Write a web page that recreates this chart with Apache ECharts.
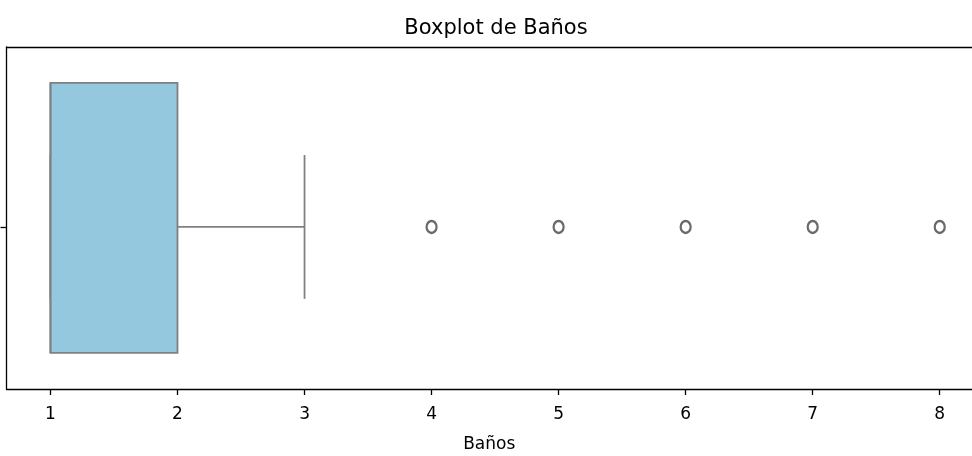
<!DOCTYPE html>
<html>
<head>
<meta charset="utf-8">
<script src="https://cdn.jsdelivr.net/npm/echarts@6/dist/echarts.min.js"></script>
<style>
  html, body { margin: 0; padding: 0; background: #fff; }
  #chart { width: 972px; height: 456px; }
</style>
</head>
<body>
<div id="chart"></div>
<script>
// Summary statistics of the "Baños" column
// [lower whisker, Q1, median, Q3, upper whisker]
const boxStats = [1, 1, 1, 2, 3];
const outliers = [4, 5, 6, 7, 8];
const tickValues = [1, 2, 3, 4, 5, 6, 7, 8];
const groupPosition = [0];

const FONT = 'DejaVu Sans';
const LINE = '#808080';
const FILL = '#93c8de';

// box geometry in category units
const BOX_HALF = 0.4;
const BOX_SHIFT = -0.027;
const CAP_HALF = 0.213;

const chart = echarts.init(document.getElementById('chart'), null, { renderer: 'canvas' });

function renderBox(params, api) {
  const lo = api.value(0), q1 = api.value(1), med = api.value(2), q3 = api.value(3), hi = api.value(4);
  const pos = api.value(5);
  const cy = api.coord([q1, pos])[1];
  const boxTop = api.coord([q1, pos + BOX_SHIFT - BOX_HALF])[1];
  const boxBot = api.coord([q1, pos + BOX_SHIFT + BOX_HALF])[1];
  const capTop = api.coord([q1, pos - CAP_HALF])[1];
  const capBot = api.coord([q1, pos + CAP_HALF])[1];
  const xLo = api.coord([lo, pos])[0];
  const xQ1 = api.coord([q1, pos])[0];
  const xMed = api.coord([med, pos])[0];
  const xQ3 = api.coord([q3, pos])[0];
  const xHi = api.coord([hi, pos])[0];
  const ls = { stroke: LINE, lineWidth: 1.8 };
  return {
    type: 'group',
    children: [
      { type: 'line', shape: { x1: xLo, y1: cy, x2: xQ1, y2: cy }, style: ls },
      { type: 'line', shape: { x1: xQ3, y1: cy, x2: xHi, y2: cy }, style: ls },
      { type: 'line', shape: { x1: xLo, y1: capTop, x2: xLo, y2: capBot }, style: ls },
      { type: 'line', shape: { x1: xHi, y1: capTop, x2: xHi, y2: capBot }, style: ls },
      { type: 'rect', shape: { x: xQ1, y: boxTop, width: xQ3 - xQ1, height: boxBot - boxTop },
        style: { fill: FILL, stroke: LINE, lineWidth: 1.8 } },
      { type: 'line', shape: { x1: xMed, y1: boxTop, x2: xMed, y2: boxBot }, style: ls }
    ]
  };
}

const axisLineStyle = { color: '#000', width: 1.3 };

chart.setOption({
  animation: false,
  backgroundColor: '#ffffff',
  title: {
    text: 'Boxplot de Baños',
    left: 491, top: 13, textAlign: 'center',
    textStyle: { fontFamily: FONT, fontSize: 21, fontWeight: 'normal', color: '#000' }
  },
  grid: {
    left: 6.5, top: 47, right: 0, height: 342,
    containLabel: false,
    outerBoundsMode: 'none',
    show: false
  },
  xAxis: [
    {
      type: 'value',
      position: 'bottom',
      min: 0.654, max: 8.254,
      name: 'Baños', nameLocation: 'middle', nameGap: 47,
      nameTextStyle: { fontFamily: FONT, fontSize: 17, color: '#000' },
      axisLine: { show: true, onZero: false, lineStyle: axisLineStyle },
      axisTick: { show: true, customValues: tickValues, length: 6, lineStyle: axisLineStyle },
      axisLabel: { customValues: tickValues, fontFamily: FONT, fontSize: 17, color: '#000', margin: 17 },
      splitLine: { show: false }
    },
    {
      // top frame line
      type: 'value',
      position: 'top',
      min: 0.654, max: 8.254,
      axisLine: { show: true, onZero: false, lineStyle: axisLineStyle },
      axisTick: { show: false },
      axisLabel: { show: false },
      splitLine: { show: false }
    }
  ],
  yAxis: {
    type: 'value',
    inverse: true,
    min: -0.533, max: 0.48,
    axisLine: { show: true, onZero: false, lineStyle: axisLineStyle },
    axisTick: { show: true, customValues: groupPosition, length: 6, lineStyle: axisLineStyle },
    axisLabel: { show: false },
    splitLine: { show: false }
  },
  series: [
    {
      type: 'custom',
      renderItem: renderBox,
      encode: { x: [0, 1, 2, 3, 4], y: 5 },
      data: [boxStats.concat(groupPosition)],
      z: 2
    },
    {
      type: 'scatter',
      symbol: 'circle',
      symbolSize: [10, 12],
      itemStyle: { color: '#ffffff', borderColor: '#6a6a6a', borderWidth: 2.4, opacity: 1 },
      data: outliers.map(v => [v, groupPosition[0]]),
      z: 3
    }
  ]
});
</script>
</body>
</html>
